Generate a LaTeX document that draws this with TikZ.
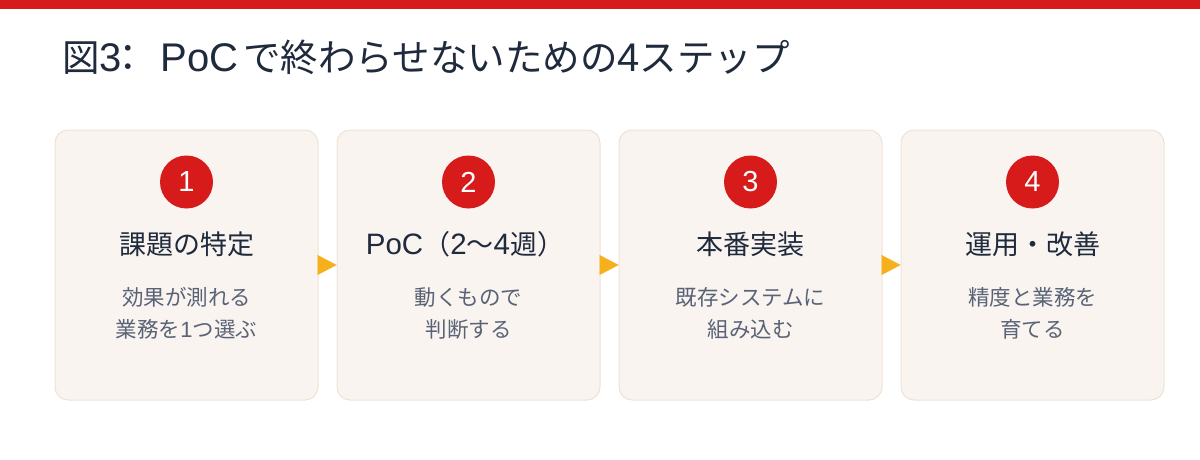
\documentclass[tikz,border=0pt]{standalone}
\usepackage{fontspec}
\setmainfont{Noto Sans CJK JP}
\newfontfamily\lat{Liberation Sans}
\usetikzlibrary{arrows.meta}
\definecolor{accred}{HTML}{D71A1A}
\definecolor{cardfill}{HTML}{F9F4F0}
\definecolor{cardline}{HTML}{EFE2D4}
\definecolor{ink}{HTML}{1F2A3C}
\definecolor{subink}{HTML}{5A6376}
\definecolor{flowc}{HTML}{F5B01C}
\newcommand{\latin}[2]{{\lat\fontsize{#1}{#1}\selectfont #2}}
\tikzset{
  card/.style={draw=cardline, line width=1pt, fill=cardfill, rounded corners=13pt,
    minimum width=263pt, minimum height=270pt, inner sep=0pt},
  badge/.style={circle, fill=accred, minimum size=53pt, inner sep=0pt,
    text=white, font=\lat\fontsize{29}{32}\selectfont},
  cardtitle/.style={anchor=base, text=ink, inner sep=0pt, font=\fontsize{27}{32}\selectfont},
  carddesc/.style={anchor=base, text=subink, inner sep=0pt, align=center,
    font=\fontsize{21.5}{32}\selectfont},
  flow/.style={draw=flowc, line width=0.01pt, -{Triangle[length=19pt,width=20pt]}},
}
\begin{document}
\begin{tikzpicture}[x=1pt,y=-1pt]
\useasboundingbox (0,0) rectangle (1200,460);
\fill[accred] (0,0) rectangle (1200,9);
\node[anchor=base west, inner sep=0pt, text=ink, font=\fontsize{37.5}{40}\selectfont] (title) at (62,71)
  {図\latin{40}{3}\kern-12.5pt：\kern13.5pt\latin{40}{PoC}\kern5pt で終わらせないための\latin{40}{4}ステップ};

\node[card] (c1) at (186.5,265) {};
\node[card] (c2) at (468.5,265) {};
\node[card] (c3) at (750.5,265) {};
\node[card] (c4) at (1032.5,265) {};

\node[badge] (b1) at (186.5,182) {1};
\node[badge] (b2) at (468.5,182) {2};
\node[badge] (b3) at (750.5,182) {3};
\node[badge] (b4) at (1032.5,182) {4};

\node[cardtitle] (t1) at (186.5,254) {課題の特定};
\node[cardtitle] (t2) at (465,254) {\latin{29.5}{PoC}（\latin{29.5}{2}〜\latin{29.5}{4}週）};
\node[cardtitle] (t3) at (750.5,254) {本番実装};
\node[cardtitle] (t4) at (1032.5,254) {運用・改善};

\node[carddesc] (d1) at (186.5,337) {効果が測れる\\業務を\latin{22}{1}つ選ぶ};
\node[carddesc] (d2) at (468.5,337) {動くもので\\判断する};
\node[carddesc] (d3) at (750.5,337) {既存システムに\\組み込む};
\node[carddesc] (d4) at (1032.5,337) {精度と業務を\\育てる};

\draw[flow] (c1.east) -- (c2.west);
\draw[flow] (c2.east) -- (c3.west);
\draw[flow] (c3.east) -- (c4.west);
\end{tikzpicture}
\end{document}
